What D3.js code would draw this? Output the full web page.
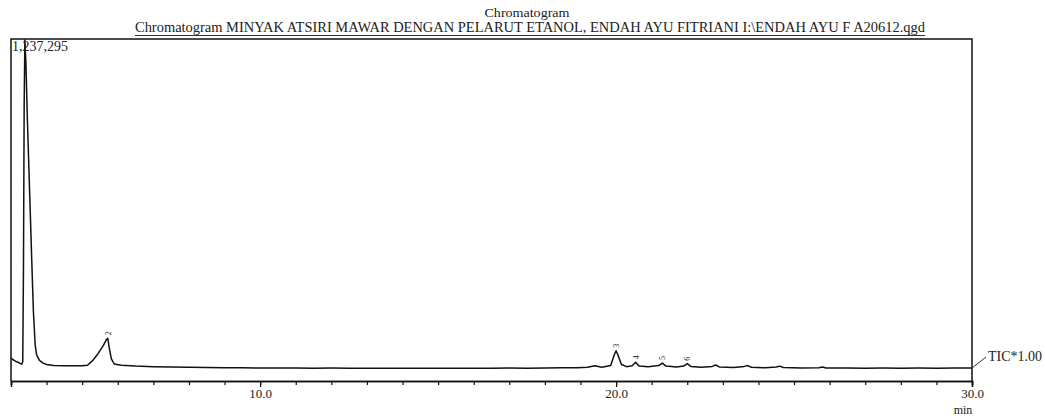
<!DOCTYPE html>
<html>
<head>
<meta charset="UTF-8">
<title>Chromatogram</title>
<script src="https://d3js.org/d3.v7.min.js"></script>
<style>
  body { margin: 0; background: #fff; }
  svg { display: block; }
  text { font-family: "Liberation Serif", "DejaVu Serif", serif; fill: #222; }
</style>
</head>
<body>
<svg width="1045" height="416"></svg>
<script>
// retention time (min) and intensity
const times = [3.00, 3.05, 3.10, 3.15, 3.20, 3.25, 3.30, 3.33, 3.35, 3.37, 3.39, 3.42, 3.46, 3.52, 3.58, 3.63, 3.68, 3.72, 3.80, 3.90, 4.00, 4.20, 4.50, 4.80, 5.00, 5.15,
  5.30, 5.45, 5.60, 5.68, 5.72, 5.76, 5.82, 5.90, 6.10, 6.50, 7.00, 7.50, 8.00, 8.50, 9.00, 9.50, 10.0, 10.5, 11.0, 11.5, 12.0, 12.5, 13.0, 13.5, 14.0, 14.5,
  15.0, 15.5, 16.0, 16.5, 17.0, 17.5, 18.0, 18.5, 18.9, 19.2, 19.4, 19.6, 19.85, 19.95, 20.0, 20.05, 20.15, 20.3, 20.45, 20.55, 20.65, 20.9, 21.2, 21.3, 21.4,
  21.7, 21.9, 22.0, 22.1, 22.4, 22.7, 22.8, 22.9, 23.3, 23.6, 23.7, 23.8, 24.2, 24.5, 24.6, 24.7, 25.2, 25.7, 25.8, 25.9, 26.5, 27.0, 27.5, 28.0, 28.5, 29.0, 29.5, 30.0];
const intensity = [83000, 78000, 74000, 70000, 68000, 64000, 61000, 70000, 400000, 1000000, 1237295, 1150000, 950000, 700000, 450000, 250000, 130000, 95000, 75000, 65000, 60000, 56000, 55000, 55000, 55000, 57000,
  75000, 100000, 130000, 150000, 155000, 120000, 80000, 62000, 57000, 54000, 52000, 51000, 50000, 49000, 48000, 48000, 47000, 47500, 47000, 46500, 47000, 46500, 46000, 46500, 46000, 46500,
  46000, 46500, 46000, 46500, 47000, 46500, 47000, 48000, 48500, 50000, 55000, 50000, 56000, 95000, 110000, 95000, 60000, 52000, 55000, 68000, 54000, 52000, 56000, 65000, 54000,
  51000, 54000, 63000, 53000, 50000, 53000, 58000, 51000, 49000, 53000, 56000, 50000, 48000, 51000, 54000, 49000, 47000, 48000, 51000, 47500, 47000, 46500, 47000, 46500, 47000, 46500, 47000, 47000];

// labelled peaks
const peakNums = ["2", "3", "4", "5", "6"];
const peakTimes = [5.72, 20.0, 20.55, 21.3, 22.0];
const peakHeights = [155000, 110000, 68000, 65000, 63000];

const majorTicks = [10, 20, 30];
const minorTicks = d3.range(3, 31);
const maxLabel = "1,237,295";
const titleTop = "Chromatogram";
const titleMain = "Chromatogram MINYAK ATSIRI MAWAR DENGAN PELARUT ETANOL, ENDAH AYU FITRIANI I:\\ENDAH AYU F A20612.qgd";

const svg = d3.select("svg");
const plotLeft = 11, plotRight = 972, plotTop = 39, plotBottom = 381;

const x = d3.scaleLinear().domain([3, 30]).range([plotLeft, plotRight]);
const y = d3.scaleLinear().domain([0, 1237295]).range([plotBottom, plotTop + 1]);

// titles
svg.append("text").attr("x", 527).attr("y", 17).attr("text-anchor", "middle")
  .style("font-size", "13px").attr("textLength", 85).attr("lengthAdjust", "spacingAndGlyphs").text(titleTop);
svg.append("text").attr("x", 135).attr("y", 32)
  .style("font-size", "15px").attr("textLength", 790).attr("lengthAdjust", "spacingAndGlyphs").text(titleMain);
svg.append("line").attr("x1", 135).attr("x2", 925).attr("y1", 35.5).attr("y2", 35.5)
  .attr("stroke", "#333").attr("stroke-width", 1);

// frame
svg.append("path")
  .attr("d", `M${plotLeft},${plotBottom}V${plotTop}H${plotRight}V${plotBottom}`)
  .attr("fill", "none").attr("stroke", "#111").attr("stroke-width", 1.5);

// axes
const minorAxis = d3.axisBottom(x).tickValues(minorTicks).tickSize(4).tickFormat("");
const majorAxis = d3.axisBottom(x).tickValues(majorTicks).tickSize(6).tickFormat(d3.format(".1f"));
const gMinor = svg.append("g").attr("transform", `translate(0,${plotBottom})`).call(minorAxis);
const gMajor = svg.append("g").attr("transform", `translate(0,${plotBottom})`).call(majorAxis);
[gMinor, gMajor].forEach(g => {
  g.select(".domain").attr("stroke", "#111").attr("stroke-width", 1.5);
  g.selectAll(".tick line").attr("stroke", "#111").attr("stroke-width", 1.2);
});
gMajor.selectAll(".tick text").attr("dy", null).attr("y", 17)
  .style("font-family", "'Liberation Serif', serif").style("font-size", "13px").attr("fill", "#222");
svg.append("text").attr("x", 963).attr("y", 414).attr("text-anchor", "middle")
  .style("font-size", "12px").text("min");

// trace
const data = times.map((t, i) => [t, intensity[i]]);
const line = d3.line().x(d => x(d[0])).y(d => y(d[1]));
svg.append("path").datum(data).attr("d", line)
  .attr("fill", "none").attr("stroke", "#111").attr("stroke-width", 1.5).attr("stroke-linejoin", "round");

// max intensity label
svg.append("text").attr("x", 12).attr("y", 51).style("font-size", "14px").text(maxLabel);

// peak numbers (rotated)
peakNums.forEach((n, i) => {
  const px = x(peakTimes[i]), py = y(peakHeights[i]) - 3;
  svg.append("text").attr("transform", `translate(${px + 3},${py}) rotate(-90)`)
    .style("font-size", "8px").text(n);
});

// TIC label
const endY = y(intensity[intensity.length - 1]);
svg.append("line").attr("x1", plotRight).attr("y1", endY).attr("x2", 986).attr("y2", 357)
  .attr("stroke", "#333").attr("stroke-width", 1);
svg.append("text").attr("x", 988).attr("y", 361).style("font-size", "14px").text("TIC*1.00");
</script>
</body>
</html>
